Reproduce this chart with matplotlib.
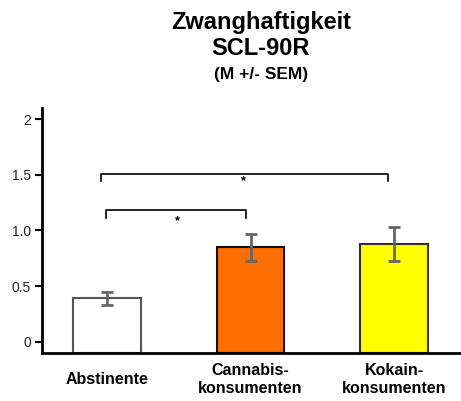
#!/usr/bin/env python3
import numpy as np
import matplotlib; matplotlib.use('Agg')
import matplotlib.pyplot as plt

plt.rcParams['font.family'] = ['Liberation Sans', 'DejaVu Sans']

groups = ['Abstinente', 'Cannabis-\nkonsumenten', 'Kokain-\nkonsumenten']
means = [0.39, 0.85, 0.88]
sems = [0.06, 0.12, 0.15]
bar_colors = ['#ffffff', '#ff6e00', '#ffff00']
edge_colors = ['#555555', '#111111', '#333333']
yticks = [0, 0.5, 1.0, 1.5, 2]
ytick_labels = ['0', '0.5', '1.0', '1.5', '2']
# significance brackets: (left x, right x, height, star position)
brackets = [(-0.04, 1.96, 1.51, (0.95, 1.44)),
            (-0.01, 0.97, 1.18, (0.49, 1.08))]

base = -0.1
fig = plt.figure(figsize=(4.61, 4.01), dpi=100)
ax = fig.add_axes([0.0911, 0.1197, 0.907, 0.611])
x = np.arange(len(groups))
ax.bar(x, np.array(means) - base, bottom=base, width=0.47, color=bar_colors,
       edgecolor=edge_colors, linewidth=1.5, zorder=2)
ax.errorbar(x, means, yerr=sems, fmt='none', ecolor='#666666', elinewidth=2,
            capsize=4, capthick=2, zorder=3)

for x0, x1, h, (sx, sy) in brackets:
    ax.plot([x0, x0, x1, x1], [h - 0.07, h, h, h - 0.07], color='black', lw=1.2)
    ax.text(sx, sy, '*', ha='center', va='center', fontsize=9, fontweight='bold')

ax.set_xlim(-0.453, 2.46)
ax.set_ylim(base, 2.1)
ax.set_yticks(yticks)
ax.set_yticklabels(ytick_labels, fontsize=10, color='#222222')
ax.tick_params(axis='y', length=5, width=1.5, pad=3)
ax.set_xticks(x)
ax.set_xticklabels(groups, fontsize=11.5, fontweight='bold', linespacing=1.3)
ax.tick_params(axis='x', length=0, pad=19)
for lab in ax.get_xticklabels():
    lab.set_verticalalignment('center')
for side in ['top', 'right']:
    ax.spines[side].set_visible(False)
for side in ['left', 'bottom']:
    ax.spines[side].set_linewidth(2)

fig.text(0.566, 0.943, 'Zwanghaftigkeit', ha='center', va='center',
         fontsize=17, fontweight='bold')
fig.text(0.566, 0.878, 'SCL-90R', ha='center', va='center',
         fontsize=17, fontweight='bold')
fig.text(0.566, 0.815, '(M +/- SEM)', ha='center', va='center',
         fontsize=12.5, fontweight='bold')

fig.savefig('out.png', dpi=100)
plt.close(fig)
